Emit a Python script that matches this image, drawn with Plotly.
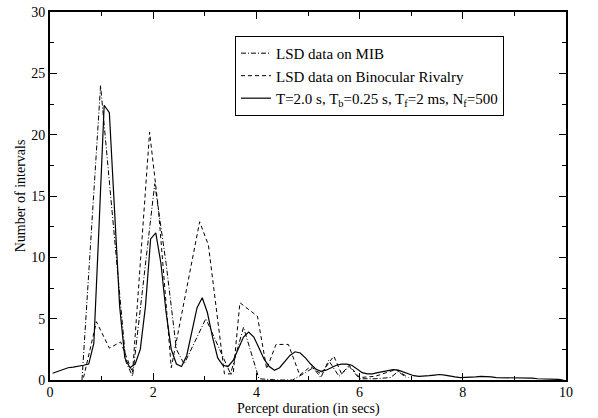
import plotly.graph_objects as go

# Model (solid) curve, sampled every 0.1 s
model_x = [round(0.05 + 0.1 * k, 2) for k in range(100)]
model_y = [0.55, 0.7, 0.9, 1.0, 1.05, 1.1, 1.2, 1.3, 3.0, 12.5,
           22.4, 21.8, 14.0, 6.0, 1.8, 1.0, 1.3, 2.5, 6.0, 11.5,
           12.0, 9.5, 5.5, 2.5, 1.3, 1.1, 2.0, 4.0, 5.9, 6.7,
           5.5, 3.5, 1.8, 1.2, 1.1, 1.6, 2.6, 3.5, 3.9, 3.5,
           2.6, 1.7, 1.1, 0.8, 1.0, 1.5, 2.0, 2.3, 2.2, 1.8,
           1.3, 0.9, 0.7, 0.8, 1.0, 1.2, 1.3, 1.3, 1.2, 0.9,
           0.6, 0.5, 0.5, 0.6, 0.7, 0.8, 0.85, 0.8, 0.65, 0.5,
           0.35, 0.3, 0.3, 0.35, 0.4, 0.45, 0.4, 0.3, 0.25, 0.2,
           0.2, 0.25, 0.25, 0.3, 0.3, 0.25, 0.2, 0.2, 0.15, 0.15,
           0.15, 0.2, 0.2, 0.15, 0.1, 0.1, 0.1, 0.1, 0.05, 0.0]

# LSD data on MIB (dash-dot)
mib_x = [0.62, 0.98, 1.47, 1.6, 2.03, 2.12, 2.25, 2.45, 2.6, 3.02, 3.5, 3.75,
         4.05, 4.4, 4.7, 4.95, 5.1, 5.25, 5.4, 5.6, 5.8, 6.0, 6.3, 6.6, 6.75, 6.9]
mib_y = [0.0, 24.0, 1.5, 0.3, 16.0, 13.5, 9.5, 2.5, 1.3, 5.0, 0.5, 4.3,
         0.1, 0.0, 0.0, 0.6, 1.0, 0.2, 1.6, 0.3, 1.1, 0.1, 0.1, 0.2, 0.7, 0.2]

# LSD data on Binocular Rivalry (dashed)
br_x = [0.65, 0.9, 1.15, 1.37, 1.6, 1.93, 2.1, 2.35, 2.9, 3.07, 3.38, 3.55,
        3.68, 4.02, 4.2, 4.38, 4.62, 4.84, 5.05, 5.25, 5.5, 5.65, 5.8, 6.0,
        6.3, 6.7, 6.95]
br_y = [0.2, 4.75, 2.6, 3.1, 0.6, 20.2, 14.0, 1.0, 12.9, 11.0, 0.5, 0.5,
        6.3, 5.2, 0.9, 2.9, 2.9, 0.4, 1.1, 0.5, 1.95, 0.5, 1.2, 0.2,
        0.3, 0.85, 0.2]

x_ticks = [0, 2, 4, 6, 8, 10]
y_ticks = [0, 5, 10, 15, 20, 25, 30]

FONT = "Liberation Serif"

fig = go.Figure()
fig.add_trace(go.Scatter(x=mib_x, y=mib_y, mode="lines",
                         name="LSD data on MIB",
                         line=dict(color="black", width=1, dash="5px,2px,1px,2px")))
fig.add_trace(go.Scatter(x=br_x, y=br_y, mode="lines",
                         name="LSD data on Binocular Rivalry",
                         line=dict(color="black", width=1, dash="4px,3px")))
fig.add_trace(go.Scatter(x=model_x, y=model_y, mode="lines",
                         name="T=2.0 s, T<sub>b</sub>=0.25 s, T<sub>f</sub>=2 ms, N<sub>f</sub>=500",
                         line=dict(color="black", width=1.2)))

axis_common = dict(showgrid=False, zeroline=False, showline=True,
                   linecolor="black", linewidth=2, mirror="allticks",
                   ticks="inside", ticklen=7, tickwidth=1, tickcolor="black",
                   automargin=False,
                   tickfont=dict(family=FONT, size=14, color="black"))

fig.update_xaxes(range=[0, 10], tickvals=x_ticks, ticktext=[str(v) for v in x_ticks],
                 minor=dict(dtick=1, tick0=0, ticks="inside", ticklen=4, tickcolor="black"),
                 ticklabelstandoff=-2,
                 **axis_common)
fig.update_yaxes(range=[0, 30], tickvals=y_ticks, ticktext=[str(v) for v in y_ticks],
                 minor=dict(dtick=2.5, tick0=0, ticks="inside", ticklen=4, tickcolor="black"),
                 title=dict(text="Number of intervals", standoff=2,
                            font=dict(family=FONT, size=14, color="black")),
                 **axis_common)

fig.add_annotation(text="Percept duration (in secs)", xref="paper", yref="paper",
                   x=0.5, y=0, xanchor="center", yanchor="top", yshift=-19,
                   showarrow=False, font=dict(family=FONT, size=14, color="black"))

fig.update_layout(
    width=598, height=418,
    margin=dict(l=50, r=32, t=12, b=38),
    paper_bgcolor="white", plot_bgcolor="white",
    font=dict(family=FONT, size=14, color="black"),
    showlegend=True,
    legend=dict(x=0.3585, y=0.935, xanchor="left", yanchor="top",
                bgcolor="white", bordercolor="black", borderwidth=1,
                font=dict(family=FONT, size=15, color="black"),
                tracegroupgap=0, itemwidth=30),
)

fig.write_html("out.html", config={"displayModeBar": False},
               post_script="document.body.style.margin='0';document.body.style.overflow='hidden';")
